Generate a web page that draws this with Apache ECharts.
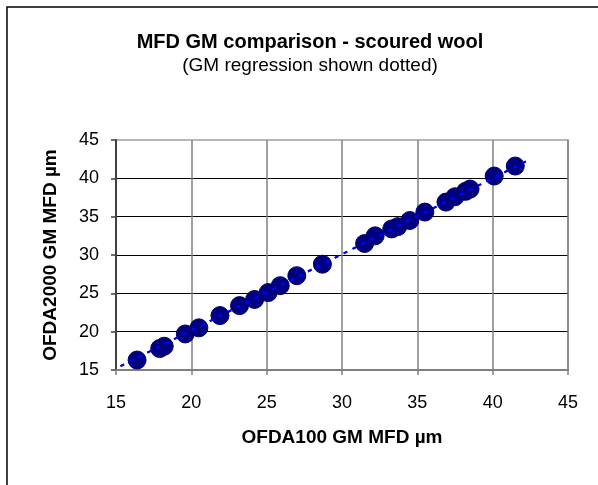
<!DOCTYPE html>
<html>
<head>
<meta charset="utf-8">
<script src="https://cdn.jsdelivr.net/npm/echarts@6/dist/echarts.min.js"></script>
<style>
  html, body { margin: 0; padding: 0; background: #fff; }
  #chart { width: 598px; height: 485px; }
</style>
</head>
<body>
<div id="chart"></div>
<script>
// OFDA100 GM MFD (x) vs OFDA2000 GM MFD (y), µm
var ofda100 = [16.4, 17.9, 18.2, 19.6, 20.5, 21.9, 23.2, 24.2, 25.1, 25.9, 27.0, 28.7,
  31.5, 32.2, 33.3, 33.7, 34.5, 35.5, 36.9, 37.5, 38.2, 38.5, 40.1, 41.5]
var ofda2000 = [16.3, 17.8, 18.1, 19.7, 20.5, 22.1, 23.4, 24.2, 25.1, 26.0, 27.3, 28.8,
  31.5, 32.5, 33.4, 33.7, 34.5, 35.6, 36.9, 37.6, 38.3, 38.6, 40.3, 41.6]

// GM regression line end points
var regX = [15.3, 42.5]
var regY = [15.5, 42.5]

var axisMin = 15
var axisMax = 45
var axisStep = 5

var points = ofda100.map(function(x, i) { return [x, ofda2000[i]] })
var regLine = regX.map(function(x, i) { return [x, regY[i]] })

var chart = echarts.init(document.getElementById('chart'))
var font = 'Arial, "Liberation Sans", sans-serif'

chart.setOption({
  animation: false,
  backgroundColor: '#fff',
  textStyle: { fontFamily: font },
  title: {
    text: 'MFD GM comparison - scoured wool',
    subtext: '(GM regression shown dotted)',
    left: 305,
    textAlign: 'center',
    top: 27,
    itemGap: 4,
    textStyle: { fontSize: 20, fontWeight: 'bold', color: '#000', fontFamily: font },
    subtextStyle: { fontSize: 19, color: '#000', fontFamily: font }
  },
  graphic: [{
    type: 'rect',
    shape: { x: 7, y: 7, width: 620, height: 520 },
    style: { fill: 'none', stroke: '#000', lineWidth: 1.5 },
    silent: true
  }],
  grid: {
    left: 116,
    top: 140,
    right: 30,
    bottom: 115,
    show: true,
    borderColor: '#a0a0a0',
    borderWidth: 1.5
  },
  xAxis: {
    type: 'value',
    min: axisMin,
    max: axisMax,
    interval: axisStep,
    name: 'OFDA100 GM MFD µm',
    nameLocation: 'middle',
    nameGap: 58,
    nameTextStyle: { fontSize: 19, fontWeight: 'bold', color: '#000' },
    axisLine: { lineStyle: { color: '#808080', width: 2 } },
    axisTick: { show: true, length: 5, lineStyle: { color: '#808080', width: 1.5 } },
    axisLabel: { fontSize: 18, color: '#000', margin: 24 },
    splitLine: { show: true, lineStyle: { color: '#808080', width: 1.5 } }
  },
  yAxis: {
    type: 'value',
    min: axisMin,
    max: axisMax,
    interval: axisStep,
    name: 'OFDA2000 GM MFD µm',
    nameLocation: 'middle',
    nameGap: 56,
    nameTextStyle: { fontSize: 19, fontWeight: 'bold', color: '#000' },
    axisLine: { show: true, lineStyle: { color: '#404040', width: 2 } },
    axisTick: { show: true, length: 5, lineStyle: { color: '#404040', width: 1.5 } },
    axisLabel: { fontSize: 18, color: '#000', margin: 17 },
    splitLine: { show: true, showMaxLine: false, lineStyle: { color: '#000', width: 1 } }
  },
  series: [
    {
      name: 'GM regression',
      type: 'line',
      data: regLine,
      symbol: 'none',
      lineStyle: { color: '#0000ff', width: 2, type: [4, 6] },
      z: 3
    },
    {
      name: 'samples',
      type: 'scatter',
      data: points,
      symbol: 'circle',
      symbolSize: 18,
      itemStyle: { color: '#000080', borderColor: '#00006a', borderWidth: 1, opacity: 1 },
      z: 2
    },
    {
      // dotted line shows over the markers too
      name: 'GM regression over',
      type: 'line',
      data: regLine,
      symbol: 'none',
      lineStyle: { color: '#0000ff', width: 2, type: [4, 6] },
      z: 4
    }
  ]
})
</script>
</body>
</html>
